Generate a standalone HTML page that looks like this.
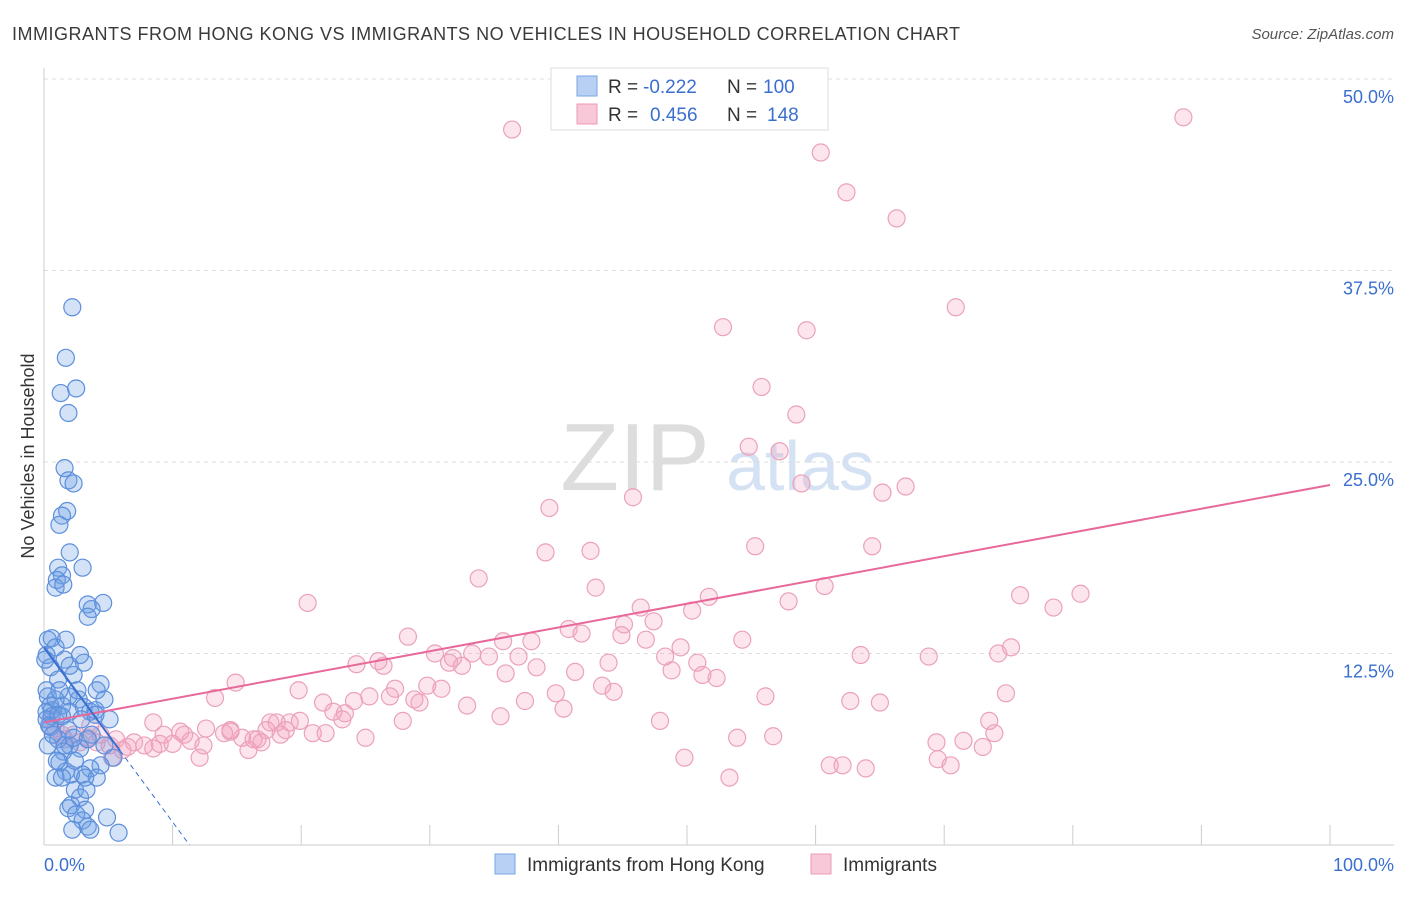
<!DOCTYPE html>
<html><head><meta charset="utf-8"><style>
body{margin:0;background:#fff;font-family:"Liberation Sans",sans-serif;}
svg text{font-family:"Liberation Sans",sans-serif;}
</style></head><body>
<svg id="chart" width="1406" height="892" xmlns="http://www.w3.org/2000/svg">
<text x="12" y="40" font-size="18" fill="#3a3a3a" textLength="948" lengthAdjust="spacing">IMMIGRANTS FROM HONG KONG VS IMMIGRANTS NO VEHICLES IN HOUSEHOLD CORRELATION CHART</text>
<text x="1394" y="39" font-size="15" fill="#555" text-anchor="end" font-style="italic">Source: ZipAtlas.com</text>
<text transform="translate(34,456) rotate(-90)" font-size="18" fill="#333" text-anchor="middle">No Vehicles in Household</text>
<g>
<text x="635" y="490" font-size="96" fill="#ddd" font-family="Liberation Serif" text-anchor="middle">ZIP</text>
<text x="800" y="490" font-size="70" fill="#d4e2f4" text-anchor="middle">atlas</text>
</g>
<g id="grid"></g>
<g id="pts"></g>
<g id="trend"></g>
<g>
<rect x="551" y="68" width="277" height="62" fill="#fff" stroke="#ddd"/>
<rect x="577" y="76" width="20" height="20" fill="#b8d0f4" stroke="#7aa6e4"/>
<rect x="577" y="104" width="20" height="20" fill="#f8c8d8" stroke="#ec9ab8"/>
<text x="608" y="93" font-size="19" fill="#333">R =</text>
<text x="643" y="93" font-size="19" fill="#3a6fd0">-0.222</text>
<text x="727" y="93" font-size="19" fill="#333">N =</text>
<text x="763" y="93" font-size="19" fill="#3a6fd0">100</text>
<text x="608" y="121" font-size="19" fill="#333">R =</text>
<text x="650" y="121" font-size="19" fill="#3a6fd0">0.456</text>
<text x="727" y="121" font-size="19" fill="#333">N =</text>
<text x="767" y="121" font-size="19" fill="#3a6fd0">148</text>
</g>
<g>
<rect x="495" y="854" width="20" height="20" fill="#b8d0f4" stroke="#7aa6e4"/>
<text x="527" y="871" font-size="19" fill="#333">Immigrants from Hong Kong</text>
<rect x="811" y="854" width="20" height="20" fill="#f8c8d8" stroke="#ec9ab8"/>
<text x="843" y="871" font-size="19" fill="#333">Immigrants</text>
</g>
<text x="44" y="871" font-size="18" fill="#3a6fd0">0.0%</text>
<text x="1394" y="871" font-size="18" fill="#3a6fd0" text-anchor="end">100.0%</text>
</svg>
<script>
const yTicks=[12.5,25,37.5,50];
const yTickLabels=["12.5%","25.0%","37.5%","50.0%"];
const xTicks=[0,10,20,30,40,50,60,70,80,90,100];
const blueX=[2.2,1.7,1.3,2.5,1.9,1.6,1.9,2.3,1.8,1.4,1.2,2.0,1.1,1.4,1.0,3.0,0.9,1.5,4.6,3.4,3.7,3.4,0.6,0.3,0.9,0.2,1.6,3.1,0.5,2.3,1.1,4.4,4.1,0.2,0.3,1.9,2.7,4.7,0.5,1.4,3.1,0.6,0.2,2.0,3.6,0.6,1.4,5.1,2.9,0.5,1.9,3.7,1.1,2.0,0.3,4.7,2.8,1.5,5.4,1.2,4.4,3.6,1.7,3.0,0.9,2.1,4.1,3.2,2.4,2.8,2.1,1.9,3.2,2.5,4.9,3.0,3.4,2.2,3.6,5.8,0.2,0.9,1.2,2.6,4.0,0.4,1.6,2.4,3.3,1.4,0.7,1.0,4.0,2.0,2.8,1.7,0.1,1.1,3.4,2.3];
const blueY=[35.1,31.8,29.5,29.8,28.2,24.6,23.8,23.6,21.8,21.5,20.9,19.1,18.1,17.6,17.3,18.1,16.8,17.0,15.8,15.7,15.4,14.9,13.5,13.4,12.9,12.4,12.1,11.9,11.6,11.1,10.8,10.5,10.1,10.1,9.7,9.7,9.5,9.5,9.1,9.1,9.0,8.8,8.7,8.7,8.7,8.4,8.4,8.2,8.2,7.7,7.5,7.2,6.9,6.5,6.5,6.5,6.3,6.1,5.7,5.4,5.2,5.0,4.8,4.6,4.4,4.6,4.4,4.4,3.6,3.1,2.6,2.4,2.3,2.0,1.8,1.6,1.2,1.0,1.0,0.8,8.2,9.5,10.1,10.1,8.8,7.8,6.5,5.5,3.6,4.4,7.2,5.5,8.5,11.7,12.4,13.4,12.1,8.5,6.9,7.0];
const pinkX=[36.4,88.6,60.4,62.4,66.3,52.8,59.3,70.9,55.8,58.5,54.8,57.2,45.8,58.9,65.2,67.0,39.3,55.3,39.0,42.5,64.4,33.8,42.9,60.7,20.5,51.7,75.9,80.6,78.5,57.9,46.4,50.4,47.4,45.1,40.8,41.8,44.9,28.3,35.7,46.8,37.9,54.3,49.5,75.2,74.2,63.5,68.8,30.4,33.3,31.8,34.6,36.9,31.5,32.5,26.4,24.3,26.0,43.9,38.3,35.9,48.3,50.8,48.8,51.2,52.3,41.3,14.9,43.4,44.3,29.8,30.9,19.8,27.3,13.3,39.8,21.7,24.1,25.3,26.9,29.2,28.8,56.1,62.7,65.0,74.8,37.4,32.9,40.4,22.5,23.4,23.2,35.5,8.5,10.6,17.6,18.1,19.1,17.3,19.9,18.8,27.9,47.9,73.5,15.4,16.6,14.5,14.0,12.6,10.9,9.3,7.8,7.0,9.0,8.5,10.0,11.4,12.4,14.5,16.3,16.9,15.9,20.9,21.9,25.0,18.4,53.9,56.7,69.4,71.5,73.9,73.0,69.5,70.5,49.8,61.1,62.1,63.9,53.3,5.6,6.5,4.1,5.1,6.1,12.1,5.3,3.4,1.6,2.3,2.8,4.4,0.5,0.9,1.4,3.6];
const pinkY=[46.7,47.5,45.2,42.6,40.9,33.8,33.6,35.1,29.9,28.1,26.0,25.7,22.7,23.6,23.0,23.4,22.0,19.5,19.1,19.2,19.5,17.4,16.8,16.9,15.8,16.2,16.3,16.4,15.5,15.9,15.5,15.3,14.6,14.4,14.1,13.8,13.7,13.6,13.3,13.4,13.3,13.4,12.9,12.9,12.5,12.4,12.3,12.5,12.5,12.2,12.3,12.3,11.9,11.7,11.7,11.8,12.0,11.9,11.6,11.2,12.3,11.9,11.4,11.1,10.9,11.3,10.6,10.4,10.0,10.4,10.2,10.1,10.2,9.6,9.9,9.3,9.4,9.7,9.7,9.3,9.5,9.7,9.4,9.3,9.9,9.4,9.1,8.9,8.7,8.6,8.2,8.4,8.0,7.4,8.0,8.0,8.0,7.5,8.1,7.5,8.1,8.1,8.1,7.0,6.9,7.4,7.3,7.6,7.2,7.2,6.5,6.7,6.6,6.3,6.6,6.8,6.5,7.5,6.9,6.7,6.2,7.3,7.3,7.0,7.2,7.0,7.1,6.7,6.8,7.3,6.4,5.6,5.2,5.7,5.2,5.2,5.0,4.4,6.9,6.4,6.7,6.5,6.2,5.7,5.7,7.0,6.9,7.2,6.7,7.2,8.2,7.6,7.2,7.8];
const pinkTrend=[8.0,23.5];
const blueTrend=[12.9,-1.14];
const X0=44,X1=1330,Y0=845,YPX=(845-79)/50;
const sx=v=>X0+(X1-X0)*v/100, sy=v=>Y0-v*YPX;
const NS="http://www.w3.org/2000/svg";
function mk(t,a,p){const e=document.createElementNS(NS,t);for(const k in a)e.setAttribute(k,a[k]);p.appendChild(e);return e;}
const grid=document.getElementById('grid');
yTicks.forEach((t,i)=>{
 const l=mk('line',{x1:X0,x2:1394,y1:sy(t),y2:sy(t),stroke:'#ddd','stroke-dasharray':'4,4'},grid);
 
 
 const tx=mk('text',{x:1394,y:sy(t)+24,'font-size':18,fill:'#3a6fd0','text-anchor':'end'},grid);
 tx.textContent=yTickLabels[i];
 
 
});
const ax=mk('line',{x1:X0,x2:X0,y1:68,y2:Y0,stroke:'#ccc'},grid);


const bx=mk('line',{x1:X0,x2:1394,y1:Y0,y2:Y0,stroke:'#ccc'},grid);


xTicks.forEach(t=>{
 const l=mk('line',{x1:sx(t),x2:sx(t),y1:825,y2:Y0,stroke:'#ccc'},grid);
 
 
});
const pts=document.getElementById('pts');
pinkX.forEach((x,i)=>{
 const c=mk('circle',{cx:sx(x),cy:sy(pinkY[i]),r:8.5,fill:'rgba(244,160,190,0.28)',stroke:'#eba1bb','stroke-width':1.2},pts);
 
 
});
blueX.forEach((x,i)=>{
 const c=mk('circle',{cx:sx(x),cy:sy(blueY[i]),r:8.5,fill:'rgba(110,160,230,0.3)',stroke:'#5d8fdc','stroke-width':1.2},pts);
 
 
});
const tr=document.getElementById('trend');
const pl=mk('line',{x1:sx(0),y1:sy(pinkTrend[0]),x2:sx(100),y2:sy(pinkTrend[1]),stroke:'#e8689a','stroke-width':2},tr);


const bEnd=5.9, bZero=-blueTrend[0]/blueTrend[1];
const bl=mk('line',{x1:sx(0),y1:sy(blueTrend[0]),x2:sx(bEnd),y2:sy(blueTrend[0]+blueTrend[1]*bEnd),stroke:'#3a6fd0','stroke-width':2},tr);


const bd=mk('line',{x1:sx(bEnd),y1:sy(blueTrend[0]+blueTrend[1]*bEnd),x2:sx(bZero),y2:sy(0),stroke:'#3a6fd0','stroke-width':1,'stroke-dasharray':'5,4'},tr);


</script>
</body></html>
